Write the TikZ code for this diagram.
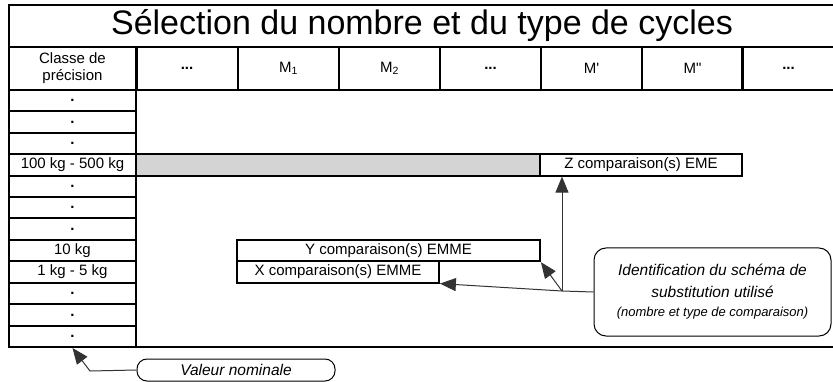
\documentclass[tikz,border=0pt]{standalone}
\usepackage{fontspec}
\setmainfont{Liberation Sans}
\usetikzlibrary{arrows.meta,positioning,shapes,calc}

\begin{document}
\begin{tikzpicture}[x=1pt, y=-1pt,
    cell/.style={draw, line width=2pt, inner sep=0pt, minimum height=21.4pt, font=\fontsize{15}{17}\selectfont, align=center},
    rowcell/.style={cell, minimum width=127pt},
    hcell/.style={cell, minimum width=101pt, minimum height=43pt},
    cbox/.style={cell, line width=1.8pt},
    note/.style={draw, line width=1pt, rounded corners=12pt, inner sep=0pt, align=center, font=\itshape\fontsize{15.5}{22}\selectfont},
    arr/.style={-{Triangle[length=16pt, width=13pt]}, line width=1pt, black!80}
]
    \useasboundingbox (0,0) rectangle (833,382);

    % Title and frame
    \node[cell, minimum width=826pt, minimum height=42pt, font=\fontsize{34}{40}\selectfont] (title) at (422,26) {Sélection du nombre et du type de cycles};
    \draw[line width=2pt] (9,47) rectangle (835,347);

    % Header row
    \node[cell, minimum width=127pt, minimum height=43pt] (classe) at (72.5,68.5) {Classe de\\précision};
    \node[hcell] (h1) at (187,68.5) {\textbf{...}};
    \node[hcell] (h2) at (288.5,68.5) {M\textsubscript{1}};
    \node[hcell] (h3) at (389.5,68.5) {M\textsubscript{2}};
    \node[hcell] (h4) at (490.5,68.5) {\textbf{...}};
    \node[hcell] (h5) at (591.5,68.5) {M\textquotesingle};
    \node[hcell] (h6) at (692.5,68.5) {M\textquotedbl};
    \node[hcell, minimum width=93pt] (h7) at (788.5,68.5) {\textbf{...}};

    % Precision classes
    \node[rowcell] (r1) at (72.5,100.7) {\textbf{.}};
    \node[rowcell] (r2) at (72.5,122.1) {\textbf{.}};
    \node[rowcell] (r3) at (72.5,143.5) {\textbf{.}};
    \node[rowcell] (r4) at (72.5,165) {100 kg - 500 kg};
    \node[rowcell] (r5) at (72.5,186.4) {\textbf{.}};
    \node[rowcell] (r6) at (72.5,207.8) {\textbf{.}};
    \node[rowcell] (r7) at (72.5,229.2) {\textbf{.}};
    \node[rowcell] (r8) at (72.5,250.6) {10 kg};
    \node[rowcell] (r9) at (72.5,272) {1 kg - 5 kg};
    \node[rowcell] (r10) at (72.5,293.5) {\textbf{.}};
    \node[rowcell] (r11) at (72.5,314.9) {\textbf{.}};
    \node[rowcell] (r12) at (72.5,336.3) {\textbf{.}};

    % Comparison boxes
    \node[cell, line width=1.8pt, fill=black!17, minimum width=404pt] (bar) at (338,165) {};
    \node[cbox, minimum width=202pt] (zbox) at (641,165) {Z comparaison(s) EME};
    \node[cbox, minimum width=303pt] (ybox) at (388.5,250.6) {Y comparaison(s) EMME};
    \node[cbox, minimum width=202pt] (xbox) at (338,272) {X comparaison(s) EMME};

    % Notes and arrows
    \node[note, minimum width=237pt, minimum height=88pt] (ident) at (712.5,292) {Identification du schéma de\\substitution utilisé\\[-3pt]{\fontsize{13}{16}\selectfont (nombre et type de comparaison)}};
    \coordinate (junc) at (562,291);
    \draw[line width=1pt, black!80] (ident.west) -- (junc);
    \draw[arr] (junc) -- (junc |- zbox.south);
    \draw[arr] (junc) -- (ybox.south east);
    \draw[arr] (junc) -- (xbox.south east);

    \node[note, rounded corners=10pt, minimum width=198pt, minimum height=22pt, font=\itshape\fontsize{15.5}{18}\selectfont] (valeur) at (236,370) {Valeur nominale};
    \coordinate (vbend) at (90,371);
    \draw[arr] (valeur.west) -- (vbend) -- (r12.south);
\end{tikzpicture}
\end{document}
